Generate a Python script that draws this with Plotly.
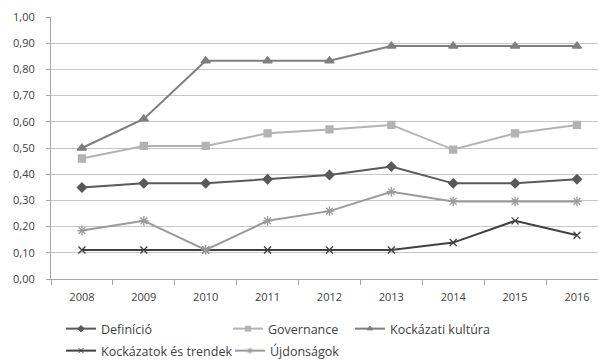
import plotly.graph_objects as go

years = ["2008", "2009", "2010", "2011", "2012", "2013", "2014", "2015", "2016"]
definicio = [0.349, 0.365, 0.365, 0.381, 0.397, 0.429, 0.365, 0.365, 0.381]
governance = [0.460, 0.508, 0.508, 0.556, 0.571, 0.588, 0.494, 0.556, 0.588]
kultura = [0.500, 0.611, 0.833, 0.833, 0.833, 0.889, 0.889, 0.889, 0.889]
trendek = [0.111, 0.111, 0.111, 0.111, 0.111, 0.111, 0.139, 0.222, 0.167]
ujdonsagok = [0.185, 0.222, 0.111, 0.222, 0.259, 0.333, 0.296, 0.296, 0.296]

series = [
    ("Definíció", definicio, "#595959", "diamond", 7, "legend"),
    ("Governance", governance, "#b3b3b3", "square", 7, "legend2"),
    ("Kockázati kultúra", kultura, "#7f7f7f", "triangle-up", 8, "legend3"),
    ("Kockázatok és trendek", trendek, "#404040", "x-thin", 7, "legend4"),
    ("Újdonságok", ujdonsagok, "#9a9a9a", "asterisk", 8, "legend5"),
]

fig = go.Figure()
for name, vals, col, sym, size, leg in series:
    fig.add_trace(go.Scatter(
        x=years, y=vals, name=name, mode="lines+markers",
        line=dict(color=col, width=2),
        marker=dict(symbol=sym, size=size, color=col,
                    line=dict(color=col, width=1.3)),
        showlegend=False,
    ))
    # legend entry with smaller marker
    fig.add_trace(go.Scatter(
        x=[None], y=[None], name=name, mode="lines+markers",
        line=dict(color=col, width=2),
        marker=dict(symbol=sym, size=5, color=col,
                    line=dict(color=col, width=1)),
        legend=leg, showlegend=True,
    ))

tick_font = dict(family="Open Sans, Noto Sans, sans-serif", size=11, color="#404040")
leg_font = dict(family="Open Sans, Noto Sans, sans-serif", size=12.5, color="#404040")
leg_pos = {
    "legend": (61, 329),
    "legend2": (228, 329),
    "legend3": (350, 329),
    "legend4": (61, 351),
    "legend5": (230, 351),
}
legends = {}
for k, (px, py) in leg_pos.items():
    legends[k] = dict(
        x=px / 599, y=1 - py / 360, xref="container", yref="container",
        xanchor="left", yanchor="middle", orientation="h",
        itemwidth=30, font=leg_font, bgcolor="rgba(0,0,0,0)",
        borderwidth=0, tracegroupgap=0,
    )

fig.update_layout(
    width=599, height=360,
    margin=dict(l=51, r=1, t=17, b=81),
    paper_bgcolor="white", plot_bgcolor="white",
    font=tick_font,
    separators=", ",
    showlegend=True,
    **legends,
)
fig.update_xaxes(
    type="category", range=[-0.5, 8.34],
    showgrid=False, showline=True, linecolor="#a6a6a6", linewidth=1,
    ticks="outside", ticklen=5, tickcolor="#a6a6a6", tickson="boundaries",
    tickfont=tick_font, ticklabelstandoff=8,
)
fig.update_yaxes(
    range=[0, 1.0], dtick=0.1, tickformat=".2f",
    showgrid=True, gridcolor="#c6c6c6", gridwidth=1,
    showline=True, linecolor="#a6a6a6", linewidth=1,
    ticks="outside", ticklen=4, tickcolor="#a6a6a6",
    zeroline=False, tickfont=tick_font, ticklabelstandoff=9,
)

fig.write_html("out.html")
